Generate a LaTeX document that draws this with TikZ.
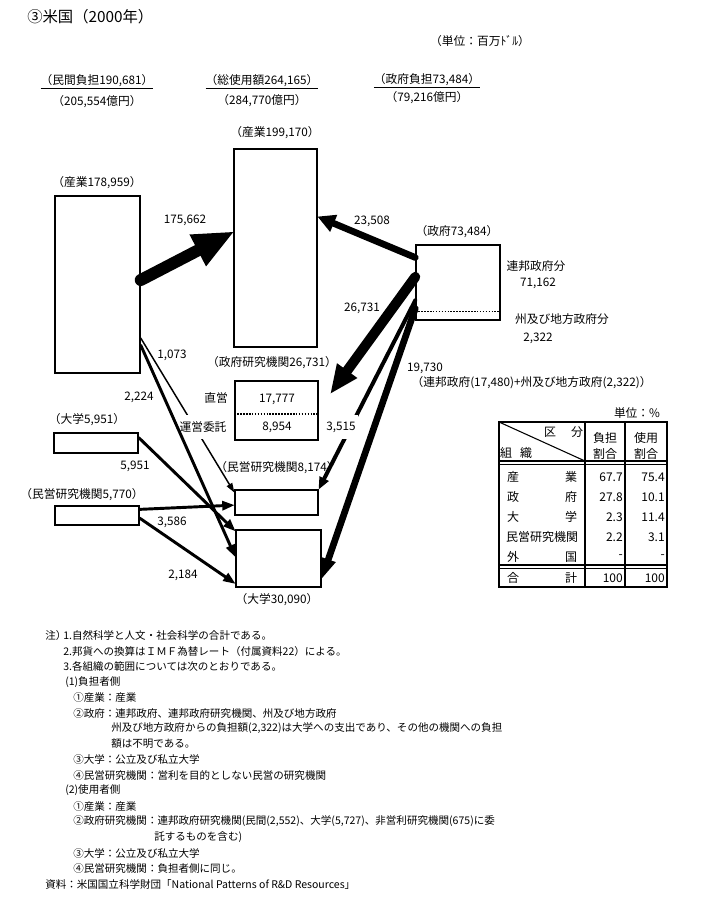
\documentclass[tikz,border=0pt]{standalone}
\usepackage{fontspec}
\setmainfont{Noto Sans CJK JP}
\usepackage{tikz}
\usetikzlibrary{arrows.meta,positioning,fit,calc}

\begin{document}
\begin{tikzpicture}[x=0.75pt, y=-0.75pt,
  box/.style={draw, line width=1.1pt, inner sep=0pt},
  lbl/.style={font=\fontsize{8.8}{10}\selectfont, inner sep=1pt},
  cut/.style={lbl, fill=white, inner xsep=0.5pt, inner ysep=5pt},
  arr/.style={line cap=round, line width=2.2pt,
              -{Triangle[length=9pt,width=7.5pt,line width=0pt]}},
  cell/.style={font=\fontsize{9}{12.5}\selectfont, inner sep=0pt, align=center},
  note/.style={anchor=west, font=\fontsize{7.9}{9}\selectfont, inner sep=0pt}
]
\useasboundingbox (0,0) rectangle (700,909);

% title and headings
\node[anchor=west, font=\fontsize{11.5}{13}\selectfont, inner sep=0pt] (title) at (27,17) {③米国（2000年）};
\node[lbl] (unit) at (480,41) {（単位：百万ﾄﾞﾙ）};
\node[lbl] (hdPriv) at (97,82) {\underline{（民間負担190,681）}};
\node[lbl, below=2pt of hdPriv] (hdPrivY) {（205,554億円）};
\node[lbl] (hdTot) at (262,82) {\underline{（総使用額264,165）}};
\node[lbl, below=1pt of hdTot] (hdTotY) {（284,770億円）};
\node[lbl] (hdGov) at (427,81) {\underline{（政府負担73,484）}};
\node[lbl, below=0pt of hdGov] (hdGovY) {（79,216億円）};

% funders (left, right) and users (middle)
\node[box, fit={(55,196) (140,373)}] (fInd) {};
\node[box, fit={(54,433) (138,453)}] (fUni) {};
\node[box, fit={(55,506) (139,525)}] (fPri) {};
\node[box, fit={(416,245) (500,320)}] (fGov) {};
\node[box, fit={(234,149) (317,347)}] (uInd) {};
\node[box, fit={(235,381) (318,440)}] (uGri) {};
\node[box, fit={(235,490) (318,515)}] (uPri) {};
\node[box, fit={(236,530) (321,587)}] (uUni) {};
\draw[densely dotted, line width=1.2pt] ($(fGov.north west)!0.88!(fGov.south west)$) -- ($(fGov.north east)!0.88!(fGov.south east)$);
\draw[densely dotted, line width=1.2pt] ($(uGri.north west)!0.56!(uGri.south west)$) -- ($(uGri.north east)!0.56!(uGri.south east)$);

% box labels
\node[lbl] (lfInd) at (97,183) {（産業178,959）};
\node[lbl] (lfUni) at (87,420) {（大学5,951）};
\node[lbl] (lfPri) at (82,495) {（民営研究機関5,770）};
\node[lbl] (lfGov) at (457,232) {（政府73,484）};
\node[lbl] (lFed) at (536,266) {連邦政府分};
\node[lbl] (lFedV) at (538,283) {71,162};
\node[lbl] (lSta) at (562,319) {州及び地方政府分};
\node[lbl] (lStaV) at (538,338) {2,322};
\node[lbl] (luInd) at (275,133) {（産業199,170）};
\node[lbl] (luGri) at (272,363) {（政府研究機関26,731）};
\node[lbl] (lDir) at (216,398) {直営};
\node[lbl] (lDirV) at (277,399) {17,777};
\node[lbl] (lConV) at (277,427) {8,954};
\node[lbl] (luPri) at (277,468) {（民営研究機関8,174）};
\node[lbl] (luUni) at (277,600) {（大学30,090）};

% flow amounts
\node[lbl] (vIndInd) at (185,220) {175,662};
\node[lbl] (vGovInd) at (372,221) {23,508};
\node[lbl] (vGovGri) at (362,308) {26,731};
\node[lbl] (vGovUni) at (425,368) {19,730};
\node[lbl, anchor=west] (vGovUniN) at (410,383) {（連邦政府(17,480)+州及び地方政府(2,322)）};
\node[lbl] (vIndPri) at (172,355) {1,073};
\node[lbl] (vIndUni) at (139,397) {2,224};
\node[lbl] (vUniUni) at (135,466) {5,951};
\node[lbl] (vPriPri) at (172,522) {3,586};
\node[lbl] (vPriUni) at (183,575) {2,184};

% thin flows that pass behind labels
\draw[arr, line width=3pt, -{Triangle[length=9pt,width=8pt,line width=0pt]}]
  ($(fGov.north west)!0.733!(fGov.south west)$) -- (uPri.north east);
\draw[arr, line width=1.1pt, -{Triangle[length=7pt,width=5pt,line width=0pt]}]
  ($(fInd.north east)!0.80!(fInd.south east)$) -- ($(uPri.north west)!0.12!(uPri.south west)$);
\node[cut] (lCon) at (203,427) {運営委託};
\node[cut, inner xsep=2pt] (vGovPri) at (341,427) {3,515};

% main flows
\draw[arr, line width=9pt, -{Triangle[length=30pt,width=27pt,line width=0pt]}]
  ($(fInd.north east)!0.475!(fInd.south east)$) -- ($(uInd.north west)!0.42!(uInd.south west)$);
\draw[arr, line width=5pt, -{Triangle[length=13pt,width=14pt,line width=0pt]}]
  ($(fGov.north west)!0.173!(fGov.south west)$) -- ($(uInd.north east)!0.343!(uInd.south east)$);
\draw[arr, line width=7.5pt, -{Triangle[length=21pt,width=19pt,line width=0pt]}]
  ($(fGov.north west)!0.427!(fGov.south west)$) -- ($(uGri.north east)+(12,13)$);
\draw[arr, line width=5pt, -{Triangle[length=15pt,width=12pt,line width=0pt]}]
  ($(fGov.north west)!0.84!(fGov.south west)$) -- ($(uUni.north east)!0.84!(uUni.south east)$);
\draw[arr] ($(fInd.north east)!0.84!(fInd.south east)$) -- ($(uUni.north west)!0.47!(uUni.south west)$);
\draw[arr] ($(fUni.north east)!0.25!(fUni.south east)$) -- ($(uUni.north west)!0.03!(uUni.south west)$);
\draw[arr] ($(fPri.north east)!0.2!(fPri.south east)$) -- ($(uPri.north west)!0.6!(uPri.south west)$);
\draw[arr] ($(fPri.north east)!0.63!(fPri.south east)$) -- ($(uUni.north west)!0.93!(uUni.south west)$);

% share table
\node[lbl] (tUnit) at (637,413) {単位：\%};
\draw[line width=1.5pt] (499,422) rectangle (667,587);
\draw[line width=1.2pt] (585,422) -- (585,587) (625,422) -- (625,587);
\draw[line width=0.8pt] (499,461) -- (667,461) (499,464.5) -- (667,464.5);
\draw[line width=0.8pt] (499,565) -- (667,565) (499,568.5) -- (667,568.5);
\draw[line width=0.8pt] (499,422) -- (585,461);
\node[cell] (hKu) at (550,432) {区};
\node[cell] (hBun) at (577,432) {分};
\node[cell] (hSo) at (506,453) {組};
\node[cell] (hShiki) at (526,453) {織};
\node[cell] (hFund) at (605,446) {負担\\割合};
\node[cell] (hUse) at (646,446) {使用\\割合};
\node[cell] at (513,477) {産};  \node[cell] at (571,477) {業};
\node[cell, anchor=east] at (623,477) {67.7};  \node[cell, anchor=east] at (665,477) {75.4};
\node[cell] at (513,497) {政};  \node[cell] at (571,497) {府};
\node[cell, anchor=east] at (623,497) {27.8};  \node[cell, anchor=east] at (665,497) {10.1};
\node[cell] at (513,517) {大};  \node[cell] at (571,517) {学};
\node[cell, anchor=east] at (623,517) {2.3};  \node[cell, anchor=east] at (665,517) {11.4};
\node[cell] at (542,537) {民営研究機関};
\node[cell, anchor=east] at (623,537) {2.2};  \node[cell, anchor=east] at (665,537) {3.1};
\node[cell] at (513,557) {外};  \node[cell] at (571,557) {国};
\node[cell, anchor=east] at (623,557) {-};  \node[cell, anchor=east] at (665,557) {-};
\node[cell] at (513,578) {合};  \node[cell] at (571,578) {計};
\node[cell, anchor=east] at (623,578) {100};  \node[cell, anchor=east] at (665,578) {100};

% notes
\node[note] (n0) at (45,635) {注）};
\node[note] (n1) at (63,635) {1.自然科学と人文・社会科学の合計である。};
\node[note] (n2) at (63,651) {2.邦貨への換算はＩＭＦ為替レート（付属資料22）による。};
\node[note] (n3) at (63,666) {3.各組織の範囲については次のとおりである。};
\node[note] (n4) at (65,682) {(1)負担者側};
\node[note] (n5) at (73,697) {①産業：産業};
\node[note] (n6) at (73,713) {②政府：連邦政府、連邦政府研究機関、州及び地方政府};
\node[note] (n7) at (111,728) {州及び地方政府からの負担額(2,322)は大学への支出であり、その他の機関への負担};
\node[note] (n8) at (111,744) {額は不明である。};
\node[note] (n9) at (73,759) {③大学：公立及び私立大学};
\node[note] (n10) at (73,775) {④民営研究機関：営利を目的としない民営の研究機関};
\node[note] (n11) at (65,790) {(2)使用者側};
\node[note] (n12) at (73,806) {①産業：産業};
\node[note] (n13) at (73,821) {②政府研究機関：連邦政府研究機関(民間(2,552)、大学(5,727)、非営利研究機関(675)に委};
\node[note] (n14) at (154,837) {託するものを含む)};
\node[note] (n15) at (73,853) {③大学：公立及び私立大学};
\node[note] (n16) at (73,868) {④民営研究機関：負担者側に同じ。};
\node[note] (n17) at (45,884) {資料：米国国立科学財団「National Patterns of R\&D Resources」};
\end{tikzpicture}
\end{document}
